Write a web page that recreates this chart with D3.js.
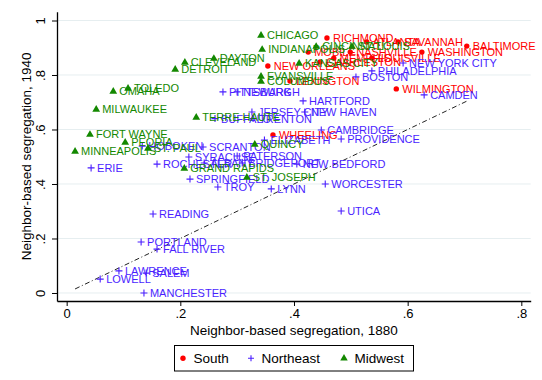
<!DOCTYPE html>
<html><head><meta charset="utf-8">
<script src="https://cdn.jsdelivr.net/npm/d3@7"></script>
<style>body{margin:0;background:#fff}svg{display:block;font-family:"Liberation Sans",Arial,sans-serif}</style>
</head><body><svg id="c" width="542" height="380"></svg>
<script>
// ---- data ----
const southNames = ["RICHMOND","ATLANTA","SAVANNAH","BALTIMORE","WASHINGTON","MOBILE","NASHVILLE","MEMPHIS","LOUISVILLE","CHARLESTON","NEW ORLEANS","LEXINGTON","WILMINGTON","WHEELING"];
const south1880  = [0.458,0.528,0.583,0.704,0.625,0.425,0.499,0.470,0.537,0.446,0.354,0.393,0.580,0.363];
const south1940  = [0.936,0.921,0.921,0.906,0.884,0.884,0.884,0.862,0.862,0.848,0.833,0.778,0.749,0.580];

const neNames = ["NEW YORK CITY","PHILADELPHIA","BOSTON","CAMDEN","HARTFORD","PITTSBURGH","NEWARK","NEW HAVEN","JERSEY CITY","TRENTON","BUFFALO","CAMBRIDGE","PROVIDENCE","ELIZABETH","HOBOKEN","SCRANTON","SYRACUSE","PATERSON","ERIE","ROCHESTER","ALBANY","BRIDGEPORT","NEW BEDFORD","SPRINGFIELD","TROY","LYNN","WORCESTER","UTICA","READING","PORTLAND","FALL RIVER","LAWRENCE","SALEM","LOWELL","MANCHESTER"];
const ne1880  = [0.592,0.537,0.509,0.629,0.416,0.275,0.300,0.419,0.326,0.328,0.261,0.448,0.483,0.348,0.133,0.240,0.215,0.300,0.043,0.159,0.242,0.309,0.405,0.217,0.266,0.360,0.455,0.483,0.152,0.131,0.159,0.092,0.140,0.059,0.136];
const ne1940  = [0.844,0.815,0.793,0.727,0.705,0.738,0.738,0.664,0.664,0.640,0.640,0.598,0.565,0.561,0.539,0.536,0.499,0.503,0.459,0.473,0.477,0.477,0.473,0.418,0.389,0.382,0.400,0.301,0.290,0.187,0.161,0.081,0.073,0.051,0.000];

const mwNames = ["CHICAGO","INDIANAPOLIS","CINCINNATI","ST. LOUIS","KANSAS CITY","DAYTON","CLEVELAND","DETROIT","TOLEDO","OMAHA","MILWAUKEE","FORT WAYNE","PEORIA","ST. PAUL","MINNEAPOLIS","TERRE HAUTE","EVANSVILLE","COLUMBUS","GRAND RAPIDS","ST. JOSEPH","QUINCY"];
const mw1880  = [0.342,0.344,0.439,0.502,0.409,0.259,0.208,0.191,0.108,0.082,0.052,0.041,0.103,0.143,0.0148,0.228,0.342,0.342,0.207,0.317,0.331];
const mw1940  = [0.947,0.895,0.906,0.906,0.844,0.862,0.848,0.822,0.752,0.741,0.675,0.583,0.554,0.532,0.521,0.646,0.796,0.778,0.459,0.426,0.547];

const xTicks = [0,0.2,0.4,0.6,0.8];
const yTicks = [0,0.2,0.4,0.6,0.8,1];
const tickFmt = v => v===0 ? "0" : (v===1 ? "1" : d3.format(".1f")(v).replace(/^0/,""));
const regionNames = ["South","Northeast","Midwest"];
const xTitle = "Neighbor-based segregation, 1880";
const yTitle = "Neighbor-based segregation, 1940";

// ---- drawing ----
const colors = {South:"#ff0000", Northeast:"#4a1eff", Midwest:"#138800"};
const svg = d3.select("#c");
const x = d3.scaleLinear().domain([-0.017,0.8165]).range([57,530.7]);
const y = d3.scaleLinear().domain([-0.0294,1.0323]).range([301,11.7]);

// gridlines
svg.append("g").selectAll("line").data(yTicks).join("line")
  .attr("x1",x(-0.017)).attr("x2",x(0.8165))
  .attr("y1",d=>y(d)).attr("y2",d=>y(d))
  .attr("stroke","#e6eef0").attr("stroke-width",1);

// axes
const xAxis = d3.axisBottom(x).tickValues(xTicks).tickFormat(tickFmt).tickSize(5).tickSizeOuter(0);
const gx = svg.append("g").attr("transform",`translate(0,${y(-0.0294)})`).call(xAxis);
gx.select(".domain").attr("stroke","#000").attr("stroke-width",1.3);
gx.selectAll(".tick line").attr("stroke","#000");
gx.selectAll(".tick text").attr("font-size",13).attr("font-family","Liberation Sans, Arial").attr("fill","#000").attr("dy","0.68em").attr("y",8);

const yAxis = d3.axisLeft(y).tickValues(yTicks).tickFormat(tickFmt).tickSize(5).tickSizeOuter(0);
const gy = svg.append("g").attr("transform",`translate(${x(-0.017)},0)`).call(yAxis);
gy.select(".domain").attr("stroke","#000").attr("stroke-width",1.3);
gy.selectAll(".tick line").attr("stroke","#000");
gy.selectAll(".tick text").attr("font-size",13).attr("font-family","Liberation Sans, Arial").attr("fill","#000")
  .attr("x",null).attr("dy",null).attr("text-anchor","middle")
  .attr("transform","translate(-12,0) rotate(-90)");

// 45-degree reference line over the 1880 data range
const allX = south1880.concat(ne1880, mw1880);
const lo = d3.min(allX), hi = d3.max(allX);
svg.append("line").attr("x1",x(lo)).attr("y1",y(lo)).attr("x2",x(hi)).attr("y2",y(hi))
  .attr("stroke","#222").attr("stroke-width",1).attr("stroke-dasharray","5,2.5,1,2.5");

// markers & labels
function series(names, xs, ys, region){
  const data = names.map((n,i)=>({n, x:xs[i], y:ys[i]}));
  const g = svg.append("g");
  const c = colors[region];
  data.forEach(d=>{
    const px = x(d.x), py = y(d.y);
    if(region==="South"){
      g.append("circle").attr("cx",px).attr("cy",py).attr("r",2.7).attr("fill",c);
    } else if(region==="Northeast"){
      g.append("path").attr("d",`M${px-3.5},${py}H${px+3.5}M${px},${py-3.5}V${py+3.5}`).attr("stroke",c).attr("stroke-width",1.1);
    } else {
      g.append("path").attr("d",d3.symbol(d3.symbolTriangle,26)()).attr("transform",`translate(${px},${py+0.5})`).attr("fill",c);
    }
    g.append("text").attr("x",px+6).attr("y",py).attr("dy","0.36em").attr("font-size",11).attr("fill",c).text(d.n);
  });
}
series(southNames, south1880, south1940, "South");
series(neNames, ne1880, ne1940, "Northeast");
series(mwNames, mw1880, mw1940, "Midwest");

// axis titles
svg.append("text").attr("x",(x(-0.017)+x(0.8165))/2).attr("y",335).attr("text-anchor","middle")
  .attr("font-size",13.5).attr("fill","#000").text(xTitle);
svg.append("text").attr("transform",`translate(31,${(y(-0.0294)+y(1.0323))/2}) rotate(-90)`).attr("text-anchor","middle")
  .attr("font-size",13.5).attr("fill","#000").text(yTitle);

// legend
const lg = svg.append("g");
lg.append("rect").attr("x",174.5).attr("y",345.5).attr("width",239).attr("height",25.5).attr("fill","#fff").attr("stroke","#000").attr("stroke-width",1);
const lx = [183,251,344];
regionNames.forEach((r,i)=>{
  const cx = lx[i], cy = 358.3;
  const c = colors[r];
  if(r==="South") lg.append("circle").attr("cx",cx).attr("cy",cy).attr("r",2.7).attr("fill",c);
  else if(r==="Northeast") lg.append("path").attr("d",`M${cx-3},${cy}H${cx+3}M${cx},${cy-3}V${cy+3}`).attr("stroke",c).attr("stroke-width",1.1);
  else lg.append("path").attr("d",d3.symbol(d3.symbolTriangle,24)()).attr("transform",`translate(${cx},${cy})`).attr("fill",c);
  lg.append("text").attr("x",cx+10.5).attr("y",cy).attr("dy","0.36em").attr("font-size",13.5).attr("fill","#000").text(r);
});
</script></body></html>
